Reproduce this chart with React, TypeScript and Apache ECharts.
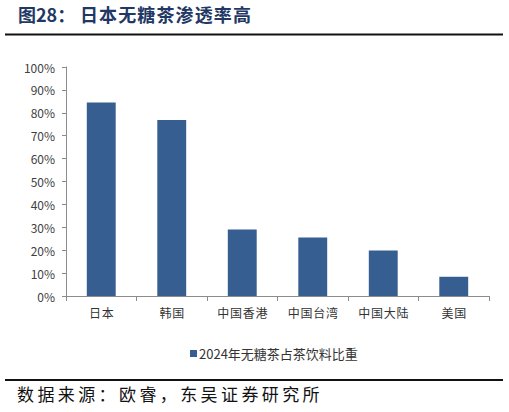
import { useEffect, useRef } from 'react'
import * as echarts from 'echarts'

// ── Data ──────────────────────────────────────────────────────────────────────
const CATEGORIES = ['日本', '韩国', '中国香港', '中国台湾', '中国大陆', '美国']
const SHARE = [84.5, 76.9, 29.0, 25.6, 19.9, 8.4] // %
const SERIES_NAME = '2024年无糖茶占茶饮料比重'
const Y_TICKS = [0, 10, 20, 30, 40, 50, 60, 70, 80, 90, 100]

const TITLE_NO = '图28：'
const TITLE = '日本无糖茶渗透率高'
const SOURCE = '数据来源：欧睿，东吴证券研究所'

const BAR = '#375e90'
const AXIS = '#8c8c8c'
const FONT = '"Noto Sans CJK SC", "Noto Sans", sans-serif'

// the original is set in a Song face with loose tracking; thin spaces imitate it
const spread = (s: string, sp: string) => s.split('').join(sp)

export default function App() {
  const ref = useRef<HTMLDivElement>(null)

  useEffect(() => {
    if (!ref.current) return
    const chart = echarts.init(ref.current, undefined, { renderer: 'svg' })

    const option: echarts.EChartsOption = {
      animation: false,
      backgroundColor: '#fff',
      textStyle: { fontFamily: FONT },
      grid: { left: 66, right: 20, top: 67, bottom: 116 },

      legend: {
        left: 185,
        top: 342,
        itemWidth: 7,
        itemHeight: 7,
        icon: 'rect',
        textStyle: { fontSize: 13, color: '#333', padding: [0, 0, 0, -3] },
        data: [SERIES_NAME],
      },

      xAxis: {
        type: 'category',
        data: CATEGORIES,
        axisLine: { lineStyle: { color: AXIS } },
        axisTick: { show: true, length: 5, lineStyle: { color: AXIS } },
        axisLabel: {
          fontSize: 12,
          color: '#333',
          margin: 10,
          formatter: (v: string) => spread(v, '\u200a'),
        },
      },

      yAxis: {
        type: 'value',
        min: Y_TICKS[0],
        max: Y_TICKS[Y_TICKS.length - 1],
        interval: 10,
        axisLine: { show: true, lineStyle: { color: AXIS } },
        axisTick: { show: true, length: 4, lineStyle: { color: AXIS } },
        splitLine: { show: false },
        axisLabel: { fontSize: 12, color: '#404040', margin: 11, formatter: (v: number) => `${v}%` },
      },

      series: [
        {
          type: 'bar',
          name: SERIES_NAME,
          data: SHARE,
          barWidth: '41%',
          itemStyle: { color: BAR },
        },
      ],

      graphic: [
        {
          type: 'text',
          left: 18,
          top: 5,
          style: { text: TITLE_NO, font: `bold 18px ${FONT}`, fill: '#1f3864' },
        },
        {
          type: 'text',
          left: 80,
          top: 5,
          style: { text: spread(TITLE, '\u200a'), font: `bold 18px ${FONT}`, fill: '#1f3864' },
        },
        {
          type: 'line',
          shape: { x1: 5, y1: 34.5, x2: 503, y2: 34.5 },
          style: { stroke: '#111', lineWidth: 2 },
        },
        {
          type: 'line',
          shape: { x1: 5, y1: 380, x2: 503, y2: 380 },
          style: { stroke: '#111', lineWidth: 2 },
        },
        {
          type: 'text',
          left: 17,
          top: 385,
          style: { text: spread(SOURCE, '\u2009'), font: `17px ${FONT}`, fill: '#111' },
        },
      ],
    }

    chart.setOption(option)
    return () => chart.dispose()
  }, [])

  return (
    <div
      ref={ref}
      style={{ position: 'fixed', left: 0, top: 0, width: 509, height: 412, background: '#fff' }}
    />
  )
}
